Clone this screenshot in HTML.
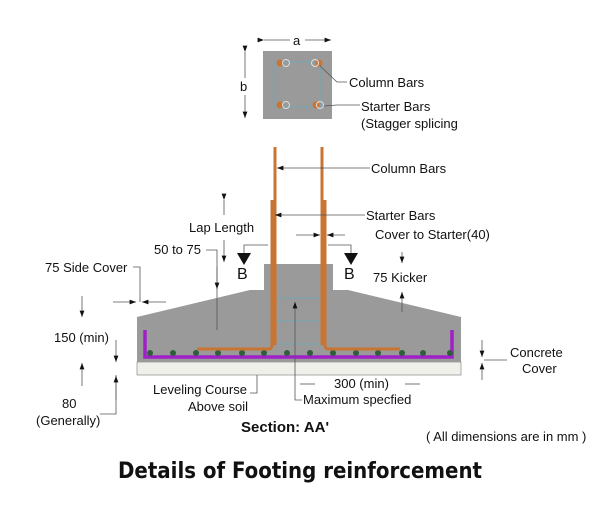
<!DOCTYPE html>
<html><head><meta charset="utf-8"><style>
html,body{margin:0;padding:0;background:#fff;}
svg{display:block;font-family:"Liberation Sans",Arial,sans-serif;}
.t{font-size:13px;fill:#111;}
.ln{stroke:#555;stroke-width:0.8;fill:none;}
</style></head><body>
<svg width="600" height="508" viewBox="0 0 600 508">
<defs>
<marker id="ar" markerWidth="8" markerHeight="6" refX="8" refY="3" orient="auto"><path d="M0,0 L8,3 L0,6 z" fill="#111"/></marker>
</defs>
<!-- column plan -->
<g>
<rect x="263" y="51" width="69" height="68" fill="#9a9a9a"/>
<rect x="274" y="62" width="47" height="45" fill="none" stroke="#6ab" stroke-width="0.8"/>
<circle cx="280" cy="63" r="3.5" fill="#c87433"/><circle cx="286" cy="63" r="3.5" fill="none" stroke="#ddd"/>
<circle cx="319" cy="63" r="3.5" fill="#c87433"/><circle cx="315" cy="63" r="3.5" fill="none" stroke="#ddd"/>
<circle cx="280" cy="105" r="3.5" fill="#c87433"/><circle cx="286" cy="105" r="3.5" fill="none" stroke="#ddd"/>
<circle cx="316" cy="105" r="3.5" fill="#c87433"/><circle cx="320" cy="105" r="3.5" fill="none" stroke="#ddd"/>
<line class="ln" x1="264" y1="40" x2="290" y2="40" marker-start="url(#ar)"/><line class="ln" x1="305" y1="40" x2="331" y2="40" marker-end="url(#ar)"/>
<text class="t" x="293" y="45">a</text>
<line class="ln" x1="245" y1="52" x2="245" y2="78" marker-start="url(#ar)"/><line class="ln" x1="245" y1="95" x2="245" y2="118" marker-end="url(#ar)"/>
<text class="t" x="240" y="91">b</text>
<polyline class="ln" points="347,82 337,82 320,66"/>
<text class="t" x="349" y="87">Column Bars</text>
<polyline class="ln" points="360,105 337,105 324,106"/>
<text class="t" x="361" y="111">Starter Bars</text>
<text class="t" x="361" y="128">(Stagger splicing</text>
</g>
<!-- section -->
<g>
<rect x="137" y="362" width="324" height="13" fill="#f0f0ea" stroke="#777" stroke-width="0.6"/>
<polygon points="137,317 250,290 264,290 264,264 333,264 333,290 348,290 461,317 461,362 137,362" fill="#9a9a9a"/>
<g stroke="#6ab" stroke-width="0.7"><line x1="272" y1="298" x2="325" y2="298"/><line x1="272" y1="321" x2="325" y2="321"/><line x1="272" y1="344" x2="325" y2="344"/></g>
<polyline points="145,330 145,357 452,357 452,330" fill="none" stroke="#a020c8" stroke-width="3.5"/>
<g fill="#2f5e3a">
<circle cx="150" cy="353" r="3"/><circle cx="173" cy="353" r="3"/><circle cx="196" cy="353" r="3"/><circle cx="218" cy="353" r="3"/><circle cx="242" cy="353" r="3"/><circle cx="264" cy="353" r="3"/><circle cx="287" cy="353" r="3"/><circle cx="310" cy="353" r="3"/><circle cx="333" cy="353" r="3"/><circle cx="356" cy="353" r="3"/><circle cx="378" cy="353" r="3"/><circle cx="402" cy="353" r="3"/><circle cx="423" cy="353" r="3"/><circle cx="450" cy="353" r="3"/>
</g>
<g fill="none" stroke="#c87433" stroke-width="3">
<line x1="275" y1="147" x2="275" y2="345"/>
<line x1="322" y1="147" x2="322" y2="345"/>
<path d="M272,200 L272,345 Q272,349 268,349 L197,349"/>
<path d="M325,200 L325,345 Q325,349 329,349 L400,349"/>
</g>
<!-- B markers -->
<polyline class="ln" points="244,258 244,245 268,245"/><polygon points="237,253 251,253 244,265" fill="#111"/>
<text x="237" y="279" font-size="16" fill="#111">B</text>
<polyline class="ln" points="328,245 351,245 351,258"/><polygon points="344,253 358,253 351,265" fill="#111"/>
<text x="344" y="279" font-size="16" fill="#111">B</text>
<!-- labels -->
<line class="ln" x1="370" y1="168" x2="277" y2="168" marker-end="url(#ar)"/><line class="ln" x1="322" y1="168" x2="324" y2="168"/>
<text class="t" x="371" y="173">Column Bars</text>
<line class="ln" x1="365" y1="215" x2="275" y2="215" marker-end="url(#ar)"/>
<text class="t" x="366" y="220">Starter Bars</text>
<line class="ln" x1="296" y1="235" x2="320" y2="235" marker-end="url(#ar)"/><line class="ln" x1="345" y1="235" x2="327" y2="235" marker-end="url(#ar)"/>
<text class="t" x="375" y="239">Cover to Starter(40)</text>
<text class="t" x="189" y="232">Lap Length</text>
<line class="ln" x1="224" y1="200" x2="224" y2="215" marker-start="url(#ar)"/><line class="ln" x1="224" y1="240" x2="224" y2="262" marker-end="url(#ar)"/>
<text class="t" x="154" y="254">50 to 75</text>
<polyline class="ln" points="206,250 217,250 217,330"/>
<line class="ln" x1="217" y1="267" x2="217" y2="289" marker-end="url(#ar)"/>
<text class="t" x="373" y="282">75 Kicker</text>
<line class="ln" x1="402" y1="252" x2="402" y2="263" marker-end="url(#ar)"/><line class="ln" x1="402" y1="312" x2="402" y2="292" marker-end="url(#ar)"/>
<text class="t" x="45" y="272">75 Side Cover</text>
<polyline class="ln" points="133,267 140,267 140,302"/>
<line class="ln" x1="113" y1="302" x2="136" y2="302" marker-end="url(#ar)"/><line class="ln" x1="166" y1="302" x2="142" y2="302" marker-end="url(#ar)"/>
<text class="t" x="54" y="342">150 (min)</text>
<line class="ln" x1="82" y1="296" x2="82" y2="317" marker-end="url(#ar)"/><line class="ln" x1="82" y1="386" x2="82" y2="363" marker-end="url(#ar)"/>
<line class="ln" x1="116" y1="340" x2="116" y2="362" marker-end="url(#ar)"/><polyline class="ln" points="100,414 116,414 116,375"/>
<line class="ln" x1="116" y1="400" x2="116" y2="376" marker-end="url(#ar)"/>
<text class="t" x="62" y="408">80</text>
<text class="t" x="36" y="425">(Generally)</text>
<text class="t" x="153" y="394">Leveling Course</text>
<text class="t" x="188" y="411">Above soil</text>
<polyline class="ln" points="250,393 257,393 257,375"/>
<line class="ln" x1="295" y1="375" x2="295" y2="302" marker-end="url(#ar)"/>
<polyline class="ln" points="302,400 295,400 295,375"/>
<text class="t" x="303" y="404">Maximum specfied</text>
<line class="ln" x1="315" y1="384" x2="300" y2="384"/>
<text class="t" x="334" y="388">300 (min)</text>
<line class="ln" x1="405" y1="384" x2="420" y2="384"/>
<line class="ln" x1="482" y1="340" x2="482" y2="357" marker-end="url(#ar)"/><line class="ln" x1="482" y1="380" x2="482" y2="363" marker-end="url(#ar)"/>
<line class="ln" x1="484" y1="360" x2="507" y2="360"/>
<text class="t" x="510" y="357">Concrete</text>
<text class="t" x="522" y="373">Cover</text>
</g>
<text x="241" y="432" font-size="15" font-weight="bold" fill="#111">Section: AA'</text>
<text class="t" x="426" y="441">( All dimensions are in mm )</text>
<text x="300" y="478" text-anchor="middle" font-size="22" font-weight="bold" fill="#111" font-family="'DejaVu Sans Condensed','Liberation Sans',sans-serif">Details of Footing reinforcement</text>
</svg>
</body></html>
